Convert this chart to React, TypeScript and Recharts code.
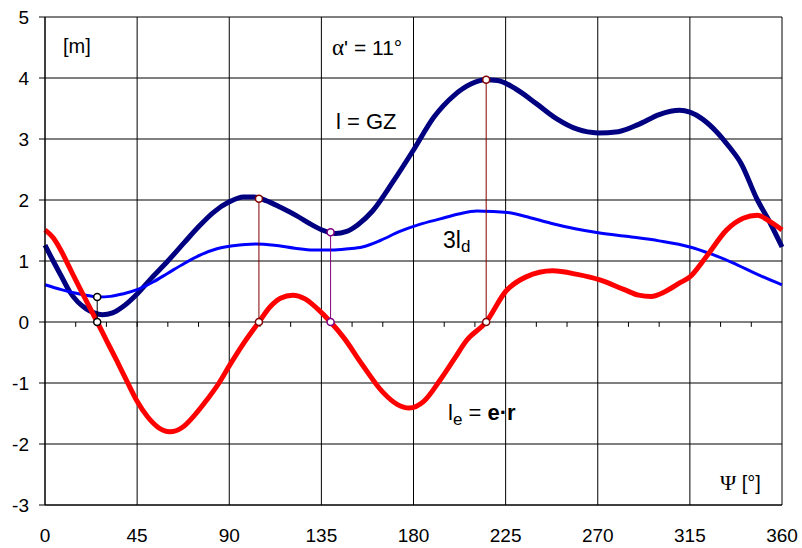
import React from "react";
import {
  LineChart,
  Line,
  XAxis,
  YAxis,
  CartesianGrid,
  ReferenceLine,
} from "recharts";

// l = GZ
const gzPsi = [0, 4, 8, 12, 16, 20, 24, 28, 33, 38, 45, 52, 60, 68, 75, 82, 90, 97, 102, 108, 115, 123, 130, 136, 142, 147, 153, 160, 170, 180, 190, 200, 208, 215, 221, 230, 240, 250, 260, 270, 280, 290, 300, 310, 315, 321, 328, 334, 340, 348, 353, 360];
const gzVal = [1.26, 1.0, 0.75, 0.5, 0.33, 0.22, 0.15, 0.12, 0.15, 0.25, 0.46, 0.72, 1.0, 1.3, 1.56, 1.79, 1.97, 2.05, 2.05, 1.99, 1.88, 1.74, 1.6, 1.5, 1.45, 1.48, 1.6, 1.82, 2.3, 2.82, 3.36, 3.72, 3.9, 3.97, 3.96, 3.82, 3.58, 3.33, 3.16, 3.1, 3.12, 3.24, 3.4, 3.47, 3.44, 3.33, 3.12, 2.88, 2.6, 2.0, 1.7, 1.23];

// 3l_d
const ldPsi = [0, 8, 14, 20, 26, 32, 38, 45, 53, 60, 68, 76, 84, 92, 103, 112, 122, 131, 140, 148, 155, 164, 173, 183, 193, 202, 211, 219, 227, 237, 247, 259, 271, 285, 300, 315, 325, 336, 348, 360];
const ldVal = [0.61, 0.53, 0.48, 0.44, 0.41, 0.42, 0.46, 0.53, 0.66, 0.8, 0.96, 1.1, 1.2, 1.25, 1.28, 1.26, 1.21, 1.18, 1.18, 1.2, 1.23, 1.34, 1.48, 1.6, 1.69, 1.77, 1.82, 1.81, 1.79, 1.71, 1.62, 1.53, 1.46, 1.4, 1.33, 1.23, 1.12, 0.97, 0.78, 0.61];

// l_e = e·r
const lePsi = [0, 4, 8, 12, 16, 20, 25.5, 30, 35, 40, 45, 50, 55, 61, 67, 73, 79, 85, 90, 97, 104.5, 110, 115, 121, 127, 133, 139.5, 146, 155, 165, 172, 178, 185, 193, 200, 206, 215.5, 225, 235, 248, 260, 271, 283, 290, 296, 303, 310, 315, 323, 333, 341, 348, 354, 360];
const leVal = [1.51, 1.38, 1.16, 0.89, 0.62, 0.36, 0, -0.3, -0.63, -0.97, -1.3, -1.55, -1.72, -1.8, -1.73, -1.53, -1.28, -1.0, -0.72, -0.35, 0, 0.25, 0.39, 0.44, 0.38, 0.22, 0, -0.26, -0.7, -1.15, -1.35, -1.41, -1.3, -0.95, -0.6, -0.3, 0, 0.5, 0.74, 0.84, 0.78, 0.69, 0.53, 0.44, 0.42, 0.5, 0.64, 0.74, 1.07, 1.51, 1.7, 1.75, 1.65, 1.51];

// vertical markers (psi, top value, colour)
const dropPsi = [25.5, 104.5, 139.5, 215.5];
const dropTop = [0.41, 2.02, 1.47, 3.97];
const dropColor = ["#000000", "#800000", "#800080", "#800000"];

const xTicks = [0, 45, 90, 135, 180, 225, 270, 315, 360];
const yTicks = [-3, -2, -1, 0, 1, 2, 3, 4, 5];
const minorTicks = [15, 30, 45, 60, 75, 90, 105, 120, 135, 150, 165, 180, 195, 210, 225, 240, 255, 270, 285, 300, 315, 330, 345];

const toRows = (psi: number[], val: number[]) =>
  psi.map((p, i) => ({ psi: p, v: val[i] }));

const gzData = toRows(gzPsi, gzVal);
const ldData = toRows(ldPsi, ldVal);
const leData = toRows(lePsi, leVal);

const FONT = "'Liberation Sans', Arial, sans-serif";
const GREEK = "'Liberation Serif', 'DejaVu Serif', serif";

export default function App() {
  return (
    <div style={{ position: "absolute", left: 0, top: 0, width: 802, height: 548, background: "#fff" }}>
      <LineChart
        width={802}
        height={548}
        margin={{ top: 17, right: 20, bottom: 0, left: 0 }}
        style={{ fontFamily: FONT }}
      >
        <CartesianGrid stroke="#000" strokeWidth={1} verticalValues={xTicks} horizontalValues={yTicks} />
        <XAxis
          type="number"
          dataKey="psi"
          domain={[0, 360]}
          ticks={xTicks}
          height={43}
          tickLine={false}
          tickSize={6}
          tickMargin={18}
          axisLine={{ stroke: "#000" }}
          tick={{ fill: "#000", fontSize: 19 }}
          allowDuplicatedCategory={false}
        />
        <YAxis
          type="number"
          domain={[-3, 5]}
          ticks={yTicks}
          width={45}
          tickSize={6}
          tickMargin={10}
          axisLine={{ stroke: "#000" }}
          tickLine={{ stroke: "#000" }}
          tick={{ fill: "#000", fontSize: 19 }}
        />
        {minorTicks.map((t) => (
          <ReferenceLine
            key={"mt" + t}
            segment={[{ x: t, y: 0 }, { x: t, y: -0.08 }]}
            stroke="#000"
            strokeWidth={1}
          />
        ))}
        <Line data={gzData} dataKey="v" type="monotone" stroke="#000080" strokeWidth={5} dot={false} isAnimationActive={false} />
        <Line data={ldData} dataKey="v" type="monotone" stroke="#0000ff" strokeWidth={3} dot={false} isAnimationActive={false} />
        <Line data={leData} dataKey="v" type="monotone" stroke="#ff0000" strokeWidth={5} dot={false} isAnimationActive={false} />
        {dropPsi.map((p, i) => (
          <Line
            key={"drop" + i}
            data={[{ psi: p, v: 0 }, { psi: p, v: dropTop[i] }]}
            dataKey="v"
            type="linear"
            stroke={dropColor[i]}
            strokeWidth={1}
            dot={{ r: 3.5, fill: "#fff", stroke: dropColor[i], strokeWidth: 1.5 }}
            isAnimationActive={false}
          />
        ))}
      </LineChart>
      <svg width={802} height={548} style={{ position: "absolute", left: 0, top: 0, pointerEvents: "none" }}>
        <g fontFamily={FONT} fill="#000">
          <text x={63} y={53} fontSize={20}>[m]</text>
          <text x={332} y={55} fontSize={21}>
            <tspan fontFamily={GREEK} fontSize={23}>α</tspan>' = 11°
          </text>
          <text x={336} y={129} fontSize={22}>l = GZ</text>
          <text x={443} y={248} fontSize={23}>
            3l<tspan fontSize={17} dy={4}>d</tspan>
          </text>
          <text x={448} y={420} fontSize={22}>
            l<tspan fontSize={17} dy={5}>e</tspan>
            <tspan dy={-5}> = </tspan>
            <tspan fontWeight="bold">e·r</tspan>
          </text>
          <text x={720} y={490} fontSize={20}>
            <tspan fontFamily={GREEK} fontSize={22}>Ψ</tspan> [°]
          </text>
        </g>
      </svg>
    </div>
  );
}
